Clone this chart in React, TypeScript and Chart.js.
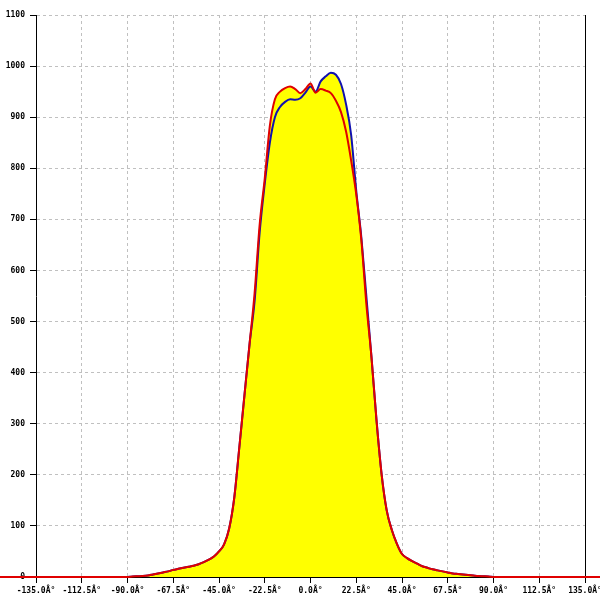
import React, { useEffect, useRef } from 'react';
import { Chart, registerables } from 'chart.js';

Chart.register(...registerables);

// Angles (degrees) of the measured profile
const angles = [
  -90, -87.5, -85, -82.5, -80, -77.5, -75, -72.5, -70, -67.5, -65, -62.5, -60, -57.5, -55, -52.5,
  -50, -47.5, -45, -42.5, -40, -37.5, -35, -32.5, -30, -27.5, -25, -22.5, -20, -17.5, -15, -12.5,
  -10, -7.5, -5, -2.5, 0, 2.5, 5, 7.5, 10, 12.5, 15, 17.5, 20, 22.5, 25, 27.5,
  30, 32.5, 35, 37.5, 40, 42.5, 45, 47.5, 50, 52.5, 55, 57.5, 60, 62.5, 65, 67.5,
  70, 72.5, 75, 77.5, 80, 82.5, 85, 87.5, 90,
];

const blueValues = [
  0, 1, 1.5, 2, 3, 5, 7, 9, 11, 14, 16, 18, 20, 22, 25, 29,
  34, 40, 50, 64, 95, 155, 254, 355, 455, 540, 675, 770, 850, 900, 920, 930,
  935, 934, 937, 948, 960, 950, 970, 980, 987, 983, 965, 925, 865, 756, 665, 548,
  430, 305, 200, 130, 92, 65, 45, 37, 31, 26, 21, 18, 15, 13, 11, 9,
  7, 6, 5, 4, 3, 2, 1.5, 1, 0,
];

const redValues = [
  0, 1, 1.5, 2, 3, 5, 7, 9, 11, 14, 16, 18, 20, 22, 25, 29,
  34, 40, 50, 64, 95, 155, 254, 355, 455, 555, 690, 780, 883, 935, 950, 957,
  960, 955, 947, 955, 966, 948, 955, 952, 947, 932, 910, 872, 815, 749, 660, 533,
  430, 305, 200, 130, 92, 65, 45, 37, 31, 26, 21, 18, 15, 13, 11, 9,
  7, 6, 5, 4, 3, 2, 1.5, 1, 0,
];

// The red trace continues at zero beyond the plotted range
const redBaselineEnds = [-160, 160];

const xTickValues = [-135, -112.5, -90, -67.5, -45, -22.5, 0, 22.5, 45, 67.5, 90, 112.5, 135];
const yTickValues = [0, 100, 200, 300, 400, 500, 600, 700, 800, 900, 1000, 1100];

export default function App() {
  const canvasRef = useRef<HTMLCanvasElement | null>(null);

  useEffect(() => {
    if (!canvasRef.current) return;
    const font = { family: '"DejaVu Sans Mono", monospace', size: 8, weight: 'bold' as const };

    const blueData = angles.map((a, i) => ({ x: a, y: blueValues[i] }));
    const redData = [
      { x: redBaselineEnds[0], y: 0 },
      ...angles.map((a, i) => ({ x: a, y: redValues[i] })),
      { x: redBaselineEnds[1], y: 0 },
    ];

    const chart = new Chart(canvasRef.current, {
      type: 'line',
      data: {
        datasets: [
          {
            label: 'red',
            data: redData,
            borderColor: '#e00000',
            borderWidth: 2,
            backgroundColor: '#ffff00',
            fill: 'origin',
            pointRadius: 0,
            cubicInterpolationMode: 'monotone',
            clip: false as any,
          },
          {
            label: 'blue',
            data: blueData,
            borderColor: '#1010b0',
            borderWidth: 2,
            backgroundColor: '#ffff00',
            fill: 'origin',
            pointRadius: 0,
            cubicInterpolationMode: 'monotone',
          },
        ],
      },
      options: {
        animation: false,
        responsive: false,
        layout: { padding: { top: 15, left: 0, right: 0, bottom: 0 }, autoPadding: false } as any,
        plugins: {
          legend: { display: false },
          tooltip: { enabled: false },
          filler: { drawTime: 'beforeDatasetsDraw' },
        },
        scales: {
          x: {
            type: 'linear',
            position: 'bottom',
            min: -135,
            max: 135,
            afterFit: (s: any) => { s.height = 23; s.paddingLeft = 0; s.paddingRight = 0; },
            afterBuildTicks: (s: any) => { s.ticks = xTickValues.map((v) => ({ value: v })); },
            grid: { color: '#c0c0c0', tickColor: '#000', tickLength: 6, lineWidth: 1 },
            border: { display: true, color: '#000', width: 1, dash: [3, 3] },
            ticks: {
              font,
              color: '#000',
              padding: 3,
              maxRotation: 0,
              autoSkip: false,
              callback: (v: any) => Number(v).toFixed(1) + 'Â°',
            },
          },
          y: {
            type: 'linear',
            position: 'left',
            min: 0,
            max: 1100,
            afterFit: (s: any) => { s.width = 36; s.paddingTop = 0; s.paddingBottom = 0; },
            afterBuildTicks: (s: any) => { s.ticks = yTickValues.map((v) => ({ value: v })); },
            grid: { color: '#c0c0c0', tickColor: '#000', tickLength: 6, lineWidth: 1 },
            border: { display: true, color: '#000', width: 1, dash: [3, 3] },
            ticks: { font, color: '#000', padding: 5, autoSkip: false, callback: (v: any) => String(v) },
          },
          yRight: {
            type: 'linear',
            position: 'right',
            min: 0,
            max: 1100,
            afterFit: (s: any) => { s.width = 15; s.paddingTop = 0; s.paddingBottom = 0; },
            grid: { display: false, drawOnChartArea: false },
            border: { display: true, color: '#000', width: 1 },
            ticks: { display: false },
          },
        },
      },
    });
    return () => chart.destroy();
  }, []);

  return (
    <div style={{ position: 'absolute', left: 0, top: 0, width: 600, height: 600, background: '#fff' }}>
      <canvas ref={canvasRef} width={600} height={600} style={{ display: 'block' }} />
    </div>
  );
}
